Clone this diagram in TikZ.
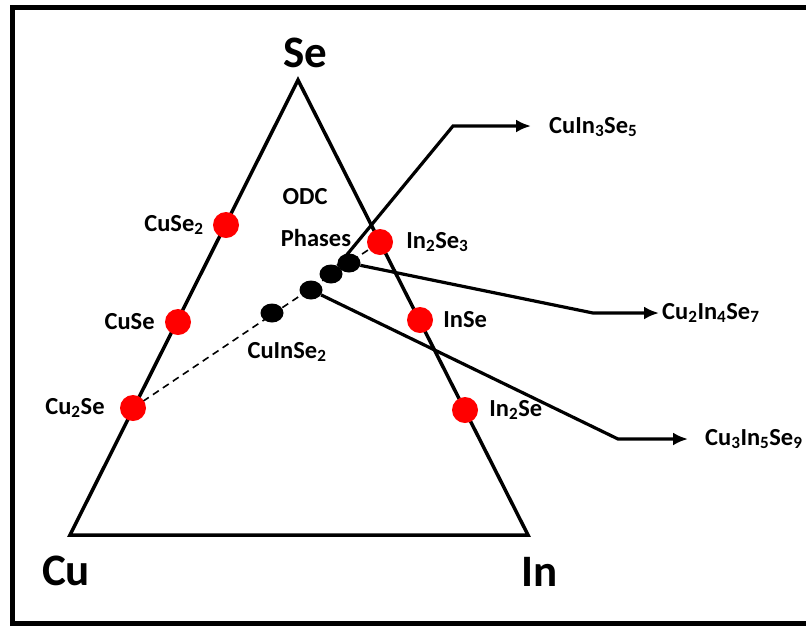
\documentclass[tikz,border=0pt]{standalone}
\usepackage{fontspec}
\setmainfont{Carlito}
\usetikzlibrary{positioning,arrows.meta,shapes.geometric}

\begin{document}
\begin{tikzpicture}[x=1pt,y=-1pt,>={Latex[length=15pt,width=13pt]},
  phase/.style={circle,fill=red,inner sep=0pt,minimum size=26pt},
  odc/.style={ellipse,fill=black,inner sep=0pt,minimum width=23pt,minimum height=19pt},
  lbl/.style={font=\bfseries\fontsize{24.5}{28}\selectfont,inner sep=0pt},
  corner/.style={font=\bfseries\fontsize{45}{50}\selectfont,inner sep=0pt},
  link/.style={->,line width=3.2pt}]
  \useasboundingbox (0,0) rectangle (806,625);
  % frame, open on the right
  \draw[line width=5pt] (830,7) -- (12,7) -- (12,623) -- (830,623);
  % triangle
  \coordinate (se) at (298,80);
  \coordinate (cu) at (70,535);
  \coordinate (in) at (528,535);
  \draw[line width=3.5pt] (cu) -- (se) -- (in) -- cycle;
  \node[corner] at (305,53) {Se};
  \node[corner] at (66,571) {Cu};
  \node[corner] at (540,572) {In};
  % tie line
  \coordinate (cu2se_c) at (133,408);
  \coordinate (in2se3_c) at (380,242);
  \draw[line width=1.6pt,dash pattern=on 7pt off 5pt] (cu2se_c) -- (in2se3_c);
  % binary phases
  \node[phase] (cuse2)  at (226,225) {};
  \node[phase] (cuse)   at (178,322) {};
  \node[phase] (cu2se)  at (cu2se_c) {};
  \node[phase] (in2se3) at (in2se3_c) {};
  \node[phase] (inse)   at (420,320) {};
  \node[phase] (in2se)  at (465,410) {};
  \node[lbl,left=9pt of cuse2] {CuSe\textsubscript{2}};
  \node[lbl,left=10pt of cuse] {CuSe};
  \node[lbl,left=15pt of cu2se] {Cu\textsubscript{2}Se};
  \node[lbl,right=13pt of in2se3] {In\textsubscript{2}Se\textsubscript{3}};
  \node[lbl,right=10pt of inse] {InSe};
  \node[lbl,right=11pt of in2se] {In\textsubscript{2}Se};
  % ODC phases
  \node[odc] (cis)   at (272,313) {};
  \node[odc] (c3i5)  at (311,290) {};
  \node[odc] (ci3)   at (331,274) {};
  \node[odc] (c2i4)  at (349,263) {};
  \node[lbl] at (287,352) {CuInSe\textsubscript{2}};
  \node[lbl] at (305,197) {ODC};
  \node[lbl] at (316,238) {Phases};
  % pointers
  \coordinate (b1) at (453,126);
  \coordinate (b2) at (593,313);
  \coordinate (b3) at (618,439);
  \node[lbl,anchor=west] (t1) at (549,127) {CuIn\textsubscript{3}Se\textsubscript{5}};
  \node[lbl,anchor=west] (t2) at (662,313) {Cu\textsubscript{2}In\textsubscript{4}Se\textsubscript{7}};
  \node[lbl,anchor=west] (t3) at (705,439) {Cu\textsubscript{3}In\textsubscript{5}Se\textsubscript{9}};
  \draw[link] (ci3) -- (b1) -- ++(78,0);
  \draw[link] (c2i4) -- (b2) -- ++(66,0);
  \draw[link] (c3i5) -- (b3) -- ++(70,0);
\end{tikzpicture}
\end{document}
